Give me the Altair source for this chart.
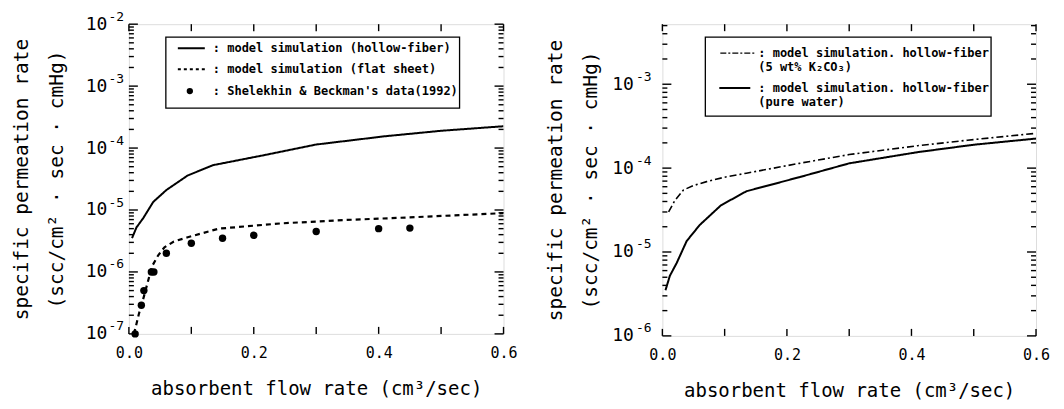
import altair as alt
import pandas as pd

FONT = "DejaVu Sans Mono"

# ---------------- data ----------------
# left panel
hf_x = [0.005, 0.012, 0.023, 0.039, 0.06, 0.094, 0.135, 0.22, 0.30, 0.41, 0.50, 0.60]
hf_y = [3.5e-6, 5.2e-6, 7.4e-6, 1.35e-5, 2.1e-5, 3.6e-5, 5.3e-5, 7.8e-5, 1.14e-4, 1.55e-4, 1.9e-4, 2.25e-4]

fs_x = [0.008, 0.011, 0.016, 0.024, 0.037, 0.047, 0.057, 0.072, 0.093, 0.144, 0.246, 0.348, 0.45, 0.60]
fs_y = [1.0e-7, 1.3e-7, 2.1e-7, 4.0e-7, 1.23e-6, 1.86e-6, 2.5e-6, 3.1e-6, 3.6e-6, 5.0e-6, 6.1e-6, 6.9e-6, 7.6e-6, 8.9e-6]

sb_x = [0.01, 0.02, 0.024, 0.036, 0.04, 0.06, 0.10, 0.15, 0.20, 0.30, 0.40, 0.45]
sb_y = [1.0e-7, 2.9e-7, 5.0e-7, 1.0e-6, 1.0e-6, 2.0e-6, 2.9e-6, 3.5e-6, 3.9e-6, 4.5e-6, 5.0e-6, 5.1e-6]

# right panel
k2_x = [0.01, 0.02, 0.034, 0.05, 0.071, 0.10, 0.135, 0.22, 0.30, 0.41, 0.49, 0.60]
k2_y = [3.0e-5, 4.1e-5, 5.5e-5, 6.2e-5, 6.9e-5, 7.8e-5, 8.7e-5, 1.14e-4, 1.45e-4, 1.85e-4, 2.15e-4, 2.6e-4]

pw_x = hf_x
pw_y = hf_y

x_ticks_major = [0.0, 0.2, 0.4, 0.6]
x_ticks_all = [0.0, 0.1, 0.2, 0.3, 0.4, 0.5, 0.6]

left_legend = [": model simulation (hollow-fiber)",
               ": model simulation (flat sheet)",
               ": Shelekhin & Beckman's data(1992)"]
right_legend = [": model simulation. hollow-fiber",
                "  (5 wt% K\u2082CO\u2083)",
                ": model simulation. hollow-fiber",
                "  (pure water)"]

x_title = "absorbent flow rate (cm\u00b3/sec)"
y_title = ["specific permeation rate", "(scc/cm\u00b2 \u00b7 sec \u00b7 cmHg)"]


def decades(lo, hi):
    return [10.0 ** e for e in range(lo, hi + 1)]


def minors(lo, hi, top=None):
    out = []
    for e in range(lo, hi + 1):
        for k in range(2, 10):
            v = k * 10.0 ** e
            if top is None or v <= top:
                out.append(v)
    return out


def df_of(xs, ys):
    return pd.DataFrame({"x": xs, "y": ys})


def build_panel(series, ydom, ymaj, ymin, lab_pad, exp_pad, title_pad, W, H):
    xs = alt.Scale(domain=[0, 0.6], nice=False, zero=False)
    ys = alt.Scale(type="log", domain=ydom, nice=False)
    base_df = series[0][0]

    def enc(ch, xaxis, yaxis):
        return ch.encode(
            x=alt.X("x:Q", scale=xs, axis=xaxis),
            y=alt.Y("y:Q", scale=ys, axis=yaxis),
        )

    x_lab = alt.Axis(orient="bottom", values=x_ticks_major, format=".1f",
                     labelFlush=False, labelOverlap=False, ticks=False, domain=False,
                     grid=False, labelPadding=12, labelFontSize=15, labelFont=FONT,
                     labelColor="black", title=x_title, titleFont=FONT, titleFontSize=19,
                     titleFontWeight="normal", titlePadding=19, titleColor="black")

    y_lab = alt.Axis(orient="left", values=ymaj, labelExpr="'10'", labelAlign="right",
                     labelBaseline="middle", labelPadding=lab_pad, labelFontSize=18,
                     labelFont=FONT, labelColor="black", labelOverlap=False,
                     ticks=False, domain=False, grid=False,
                     title=y_title, titleFont=FONT, titleFontSize=19.5, titleFontWeight="normal",
                     titleLineHeight=35, titlePadding=title_pad, titleColor="black")
    y_exp = alt.Axis(orient="left", values=ymaj,
                     labelExpr="'-' + format(-round(log(datum.value)/LN10), 'd')",
                     labelAlign="left", labelBaseline="middle", labelPadding=exp_pad,
                     labelOffset=-8, labelFontSize=13, labelFont=FONT, labelColor="black",
                     labelOverlap=False, ticks=False, domain=False, grid=False, title=None)

    ghost = alt.Chart(base_df).mark_point(opacity=0)
    layers = [
        enc(ghost, x_lab, y_lab),
        enc(ghost, None, y_exp),
    ]

    # inward tick marks on all four sides
    def yticks(vals, x1, x2):
        return alt.Chart(pd.DataFrame({"v": vals})).mark_rule(
            color="black", strokeWidth=1.4).encode(
            y=alt.Y("v:Q", scale=ys, axis=None), x=alt.value(x1), x2=alt.value(x2))

    def xticks(vals, y1, y2):
        return alt.Chart(pd.DataFrame({"v": vals})).mark_rule(
            color="black", strokeWidth=1.4).encode(
            x=alt.X("v:Q", scale=xs, axis=None), y=alt.value(y1), y2=alt.value(y2))

    layers += [
        yticks(ymaj, 0, 9), yticks(ymin, 0, 5),
        yticks(ymaj, W, W - 9), yticks(ymin, W, W - 5),
        xticks(x_ticks_all, H, H - 7), xticks(x_ticks_all, 0, 7),
    ]

    for df, kind, style in series:
        if kind == "line":
            m = alt.Chart(df).mark_line(color="black", strokeWidth=style.get("w", 2),
                                        strokeDash=style.get("dash", [1, 0]), clip=True)
        else:
            m = alt.Chart(df).mark_point(filled=True, color="black", size=55, opacity=1)
        layers.append(enc(m, None, None))
    return layers, W, H


def legend_text(label, x, y):
    return alt.Chart(pd.DataFrame({"t": [label]})).mark_text(
        align="left", baseline="middle", font=FONT, fontSize=12, fontWeight="bold",
        color="black").encode(x=alt.value(x), y=alt.value(y), text="t:N")


def legend_rule(x1, x2, y, dash, w=2):
    return alt.Chart(pd.DataFrame({"a": [0]})).mark_rule(
        color="black", strokeWidth=w, strokeDash=dash).encode(
        x=alt.value(x1), x2=alt.value(x2), y=alt.value(y))


def legend_box(x1, x2, y1, y2):
    return alt.Chart(pd.DataFrame({"a": [0]})).mark_rect(
        fill="white", stroke="black", strokeWidth=1.3).encode(
        x=alt.value(x1), x2=alt.value(x2), y=alt.value(y1), y2=alt.value(y2))


NFIX = 8  # axis + tick layers come first

# ---------------- left panel ----------------
L_layers, LW, LH = build_panel(
    [(df_of(hf_x, hf_y), "line", {"w": 2}),
     (df_of(fs_x, fs_y), "line", {"w": 2.2, "dash": [5, 4]}),
     (df_of(sb_x, sb_y), "point", {})],
    [1e-7, 1e-2], decades(-7, -2), minors(-7, -3), 22, 21, 19, 375, 310)

L_legend = [
    legend_box(37, 331, 13, 84),
    legend_rule(49, 76, 24, [1, 0]),
    legend_text(left_legend[0], 84, 24),
    legend_rule(49, 76, 45, [3, 3]),
    legend_text(left_legend[1], 84, 45),
    alt.Chart(pd.DataFrame({"a": [0]})).mark_point(filled=True, color="black", size=40,
                                                   opacity=1).encode(
        x=alt.value(61), y=alt.value(67)),
    legend_text(left_legend[2], 84, 67),
]

left = alt.layer(*L_layers[:NFIX], *L_legend, *L_layers[NFIX:]).resolve_axis(
    x="independent", y="independent").properties(width=LW, height=LH)

# ---------------- right panel ----------------
R_top = 5.2e-3
R_layers, RW, RH = build_panel(
    [(df_of(k2_x, k2_y), "line", {"w": 1.6, "dash": [7, 3, 2, 3]}),
     (df_of(pw_x, pw_y), "line", {"w": 2})],
    [1e-6, R_top], decades(-6, -3), minors(-6, -3, R_top), 29, 27, 11, 374, 312)

R_legend = [
    legend_box(43, 329, 13, 92),
    legend_rule(58, 92, 29, [6, 2, 2, 2], 1.4),
    legend_text(right_legend[0], 96, 29),
    legend_text(right_legend[1], 96, 43),
    legend_rule(57, 88, 64, [1, 0]),
    legend_text(right_legend[2], 96, 64),
    legend_text(right_legend[3], 96, 78),
]

right = alt.layer(*R_layers[:NFIX], *R_legend, *R_layers[NFIX:]).resolve_axis(
    x="independent", y="independent").properties(width=RW, height=RH)

chart = alt.hconcat(left, right, spacing=26).properties(
    padding={"left": 2, "top": 1, "right": 5, "bottom": 5}
).configure_view(stroke="black", strokeWidth=1.5).configure(background="white")

chart.save("out.html", embed_options={"renderer": "svg", "actions": False})
